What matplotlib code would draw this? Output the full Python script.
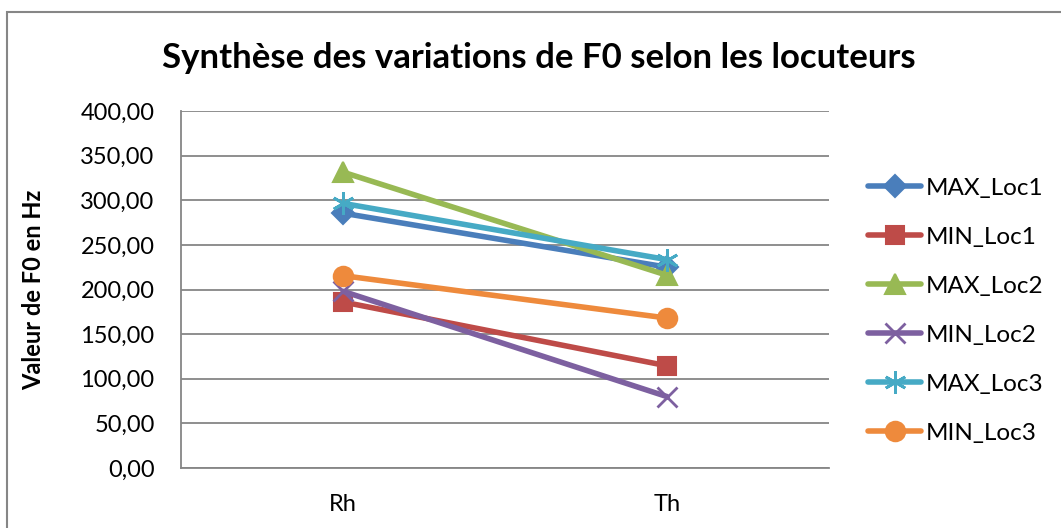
import matplotlib
matplotlib.use("Agg")
import matplotlib.pyplot as plt
from matplotlib.patches import Rectangle
from matplotlib.ticker import FuncFormatter

plt.rcParams['font.family'] = ['Lato', 'DejaVu Sans']

categories = ["Rh", "Th"]
max_loc1 = [285.5, 225.0]
min_loc1 = [186.0, 114.5]
max_loc2 = [331.5, 216.0]
min_loc2 = [198.0, 80.0]
max_loc3 = [296.5, 233.5]
min_loc3 = [215.5, 168.0]
series_names = ["MAX_Loc1", "MIN_Loc1", "MAX_Loc2", "MIN_Loc2", "MAX_Loc3", "MIN_Loc3"]

series = [max_loc1, min_loc1, max_loc2, min_loc2, max_loc3, min_loc3]
colors = ["#4A7EBB", "#BE4B48", "#98B954", "#7D60A0", "#46AAC5", "#EE8A3C"]
markers = ["D", "s", "^", "x", "*", "o"]
msizes = [11, 13, 14, 14, 16, 14]

fig = plt.figure(figsize=(10.61, 5.28), dpi=100)
# outer chart frame
fig.patches.append(Rectangle((7 / 1061, -0.1), 1.2, 1 - 12 / 528 + 0.1,
                             transform=fig.transFigure, fill=False,
                             edgecolor="#868686", linewidth=1.5))

ax = fig.add_axes([181 / 1061, 1 - 468 / 528, (829 - 181) / 1061, (468 - 111) / 528])
x = list(range(len(categories)))
for vals, name, c, m, ms in zip(series, series_names, colors, markers, msizes):
    mew = 1.5
    if m == "x":
        mew = 2
    elif m == "*":
        m = (6, 2, 0)
        mew = 2
    ax.plot(x, vals, color=c, linewidth=4, marker=m, markersize=ms,
            markeredgecolor=c, markerfacecolor=c, markeredgewidth=mew,
            label=name, solid_capstyle="round")

ax.set_xlim(-0.5, 1.5)
ax.set_ylim(0, 400)
ax.set_yticks(range(0, 401, 50))
ax.yaxis.set_major_formatter(FuncFormatter(lambda v, p: f"{v:.2f}".replace(".", ",")))
ax.set_xticks(x)
ax.set_xticklabels(categories)
ax.tick_params(axis="both", labelsize=17, length=0, colors="#000000")
ax.tick_params(axis="x", pad=19)
ax.tick_params(axis="y", pad=19)
ax.grid(axis="y", color="#868686", linewidth=1.3)
ax.set_axisbelow(True)
for s in ["top", "right"]:
    ax.spines[s].set_visible(False)
for s in ["left", "bottom"]:
    ax.spines[s].set_color("#868686")
    ax.spines[s].set_linewidth(1.3)

ax.set_ylabel("Valeur de F0 en Hz", fontsize=17, fontweight="bold")
ax.yaxis.set_label_coords((45 - 181) / (829 - 181), 0.5)
fig.text(539 / 1061, 1 - 58 / 528, "Synthèse des variations de F0 selon les locuteurs",
         ha="center", va="center", fontsize=25, fontweight="bold")

leg = ax.legend(loc="upper left", bbox_to_anchor=(1.045, 0.84), frameon=False,
                fontsize=17.5, handlelength=2.2, labelspacing=1.15, handletextpad=0.2,
                borderaxespad=0)

fig.savefig("out.png", dpi=100)
